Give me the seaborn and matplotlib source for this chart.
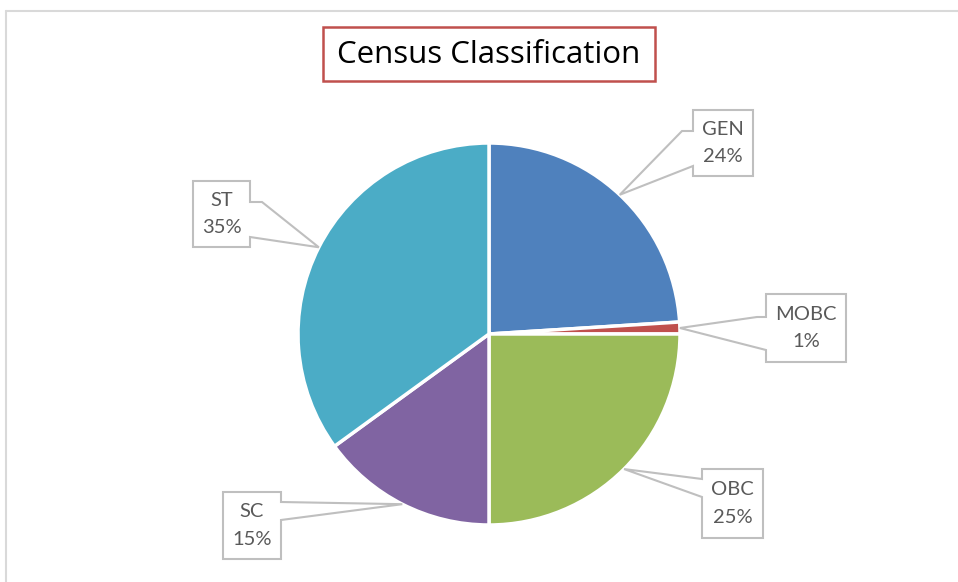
import numpy as np
import seaborn as sns
import matplotlib.pyplot as plt
from matplotlib.patches import Polygon, Rectangle

# data
categories = ['GEN', 'MOBC', 'OBC', 'SC', 'ST']
shares = [24, 1, 25, 15, 35]
colors = ['#4F81BD', '#C0504D', '#9BBB59', '#8064A2', '#4BACC6']

# callout box layout (pixel coords, top-down): x0, x1, y0, y1, side, wedge base y, elbow
callouts = {
    'GEN':  (693, 753, 110, 176, 'left', (131, 166), 11),
    'MOBC': (766, 846, 294, 362, 'left', (317, 350), 9),
    'OBC':  (702, 763, 469, 538, 'left', (479, 497), 0),
    'SC':   (223, 281, 492, 559, 'right', (502, 520), 0),
    'ST':   (193, 250, 181, 247, 'right', (202, 237), 12),
}

W, H = 958, 582
cx, cy, rad = 489, 334, 191

sns.set_theme(style='white')
plt.rcParams['font.family'] = ['Lato', 'DejaVu Sans']

fig = plt.figure(figsize=(W / 100, H / 100), dpi=100)
ax = fig.add_axes([0, 0, 1, 1])

wedges, _ = ax.pie(shares, colors=colors, startangle=90, counterclock=False,
                   center=(cx, H - cy), radius=rad,
                   wedgeprops=dict(edgecolor='white', linewidth=2.5))
ax.set_xlim(0, W)
ax.set_ylim(0, H)
ax.set_aspect('equal')
ax.axis('off')

# outer chart frame (only top and left visible)
ax.plot([6, W], [H - 11, H - 11], color='#D9D9D9', lw=1.5)
ax.plot([6, 6], [H - 11, 0], color='#D9D9D9', lw=1.5)

# title with red box
ax.add_patch(Rectangle((323, H - 81), 332, 54, facecolor='white',
                       edgecolor='#C0504D', lw=1.8))
ax.text(489, H - 55, 'Census Classification', ha='center', va='center',
        fontsize=22.5, color='black', family=['Open Sans', 'DejaVu Sans'])

# callouts pointing at each slice's mid-angle
for w, name, val in zip(wedges, categories, shares):
    ang = np.deg2rad((w.theta1 + w.theta2) / 2)
    tip = (cx + rad * np.cos(ang), H - cy + rad * np.sin(ang))
    x0, x1, y0, y1, side, (b1, b2), elbow = callouts[name]
    Y0, Y1, B1, B2 = H - y0, H - y1, H - b1, H - b2
    if side == 'left':
        pts = [(x0, Y0), (x1, Y0), (x1, Y1), (x0, Y1), (x0, B2), tip]
        if elbow:
            pts.append((x0 - elbow, B1))
        pts.append((x0, B1))
    else:
        pts = [(x0, Y0), (x1, Y0), (x1, B1)]
        if elbow:
            pts.append((x1 + elbow, B1))
        pts += [tip, (x1, B2), (x1, Y1), (x0, Y1)]
    ax.add_patch(Polygon(pts, closed=True, facecolor='white',
                         edgecolor='#BFBFBF', lw=1.5, zorder=3))
    ax.text((x0 + x1) / 2, (Y0 + Y1) / 2, f'{name}\n{val}%', ha='center',
            va='center', fontsize=14.5, color='#595959', linespacing=1.75,
            zorder=4)

fig.savefig('out.png', dpi=100, facecolor='white')
